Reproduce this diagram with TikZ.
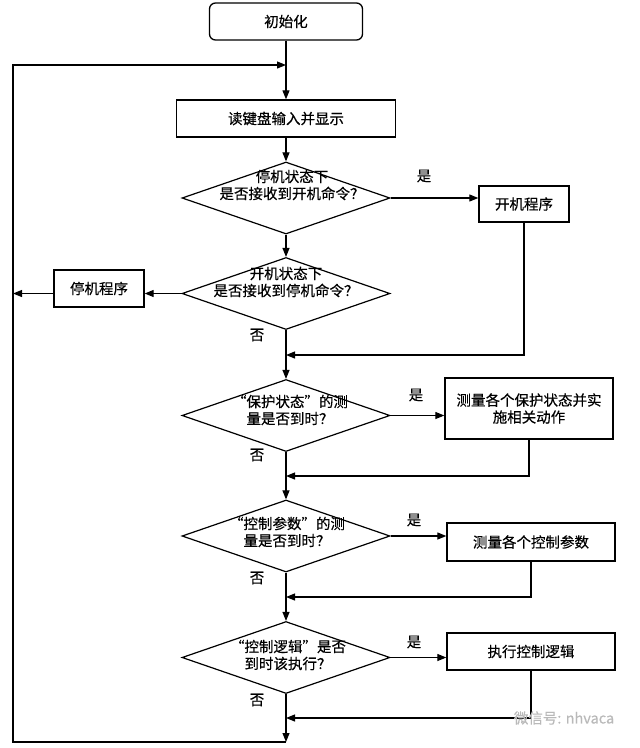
\documentclass[tikz,border=0pt]{standalone}
\usepackage{fontspec}
\newfontfamily\cjk[FakeBold=0.4]{Noto Sans CJK SC}
\usetikzlibrary{shapes.geometric,arrows.meta}

\begin{document}
\begin{tikzpicture}[x=1pt,y=-1pt,
  every node/.style={font=\cjk\fontsize{14.5}{17}\selectfont},
  box/.style={draw,line width=1.3pt,inner sep=0pt},
  decision/.style={draw,diamond,line width=1.2pt,inner sep=0pt,minimum width=208pt,minimum height=72pt},
  txt/.style={align=center,inner sep=0pt},
  flow/.style={line width=1.1pt,-{Triangle[length=9pt,width=7pt]}}]
\useasboundingbox (0,0) rectangle (640,748);

% main column
\node[box,rounded corners=6pt,minimum width=153pt,minimum height=37pt] (init) at (286,21.5) {初始化};
\node[box,minimum width=219pt,minimum height=37pt] (read) at (286,118.5) {读键盘输入并显示};
\node[decision] (d1) at (286,198) {};
\node[txt] (d1t) at (292,185) {停机状态下\\是否接收到开机命令？};
\node[decision] (d2) at (286,293.5) {};
\node[txt] (d2t) at (286,282) {开机状态下\\是否接收到停机命令？};
\node[decision] (d3) at (286,415.5) {};
\node[txt] (d3t) at (290,410) {“保护状态”的测\\量是否到时？};
\node[decision] (d4) at (286,536) {};
\node[txt] (d4t) at (287,532) {“控制参数”的测\\量是否到时？};
\node[decision] (d5) at (286,657.5) {};
\node[txt] (d5t) at (288,655) {“控制逻辑”是否\\到时该执行？};

% side boxes
\node[box,minimum width=90pt,minimum height=36pt] (start) at (524,204) {开机程序};
\node[box,minimum width=90pt,minimum height=37pt] (stop) at (99,288.5) {停机程序};
\node[box,align=center,minimum width=168pt,minimum height=61pt] (prot) at (529,408.5) {测量各个保护状态并实\\施相关动作};
\node[box,minimum width=168pt,minimum height=38pt] (para) at (531,542) {测量各个控制参数};
\node[box,minimum width=168pt,minimum height=37pt] (logic) at (531,651.5) {执行控制逻辑};

% yes / no
\node (y1) at (424,176) {是};
\node (y3) at (416,395) {是};
\node (y4) at (414,520) {是};
\node (y5) at (414,642) {是};
\node (n2) at (257,335) {否};
\node (n3) at (257,455) {否};
\node (n4) at (257,578) {否};
\node (n5) at (257,700) {否};

% junctions
\coordinate (top) at (286,65);
\coordinate (bot) at (286,742);
\coordinate (lft) at (13,742);
\coordinate (j2) at (286,355);
\coordinate (j3) at (286,476);
\coordinate (j4) at (286,597);
\coordinate (j5) at (286,718);

\draw[flow] (init) -- (read);
\draw[flow] (read) -- (d1);
\draw[flow] (d1) -- (d2);
\draw[flow] (d2) -- (d3);
\draw[flow] (d3) -- (d4);
\draw[flow] (d4) -- (d5);
\draw[flow] (d5) -- (bot);
\draw[flow] (bot) -- (lft) |- (top);

\draw[flow] (d1.east) -- (d1.east -| start.west);
\draw[flow] (start.south) |- (j2);
\draw[flow] (d2.west) -- (d2.west -| stop.east);
\draw[flow] (d2.west -| stop.west) -- (d2.west -| lft);
\draw[flow] (d3.east) -- (d3.east -| prot.west);
\draw[flow] (prot.south) |- (j3);
\draw[flow] (d4.east) -- (d4.east -| para.west);
\draw[flow] (para.south) |- (j4);
\draw[flow] (d5.east) -- (d5.east -| logic.west);
\draw[flow] (logic.south) |- (j5);

% watermark
\node[text=gray!55] (wm) at (564,718) {微信号: nhvaca};
\end{tikzpicture}
\end{document}
